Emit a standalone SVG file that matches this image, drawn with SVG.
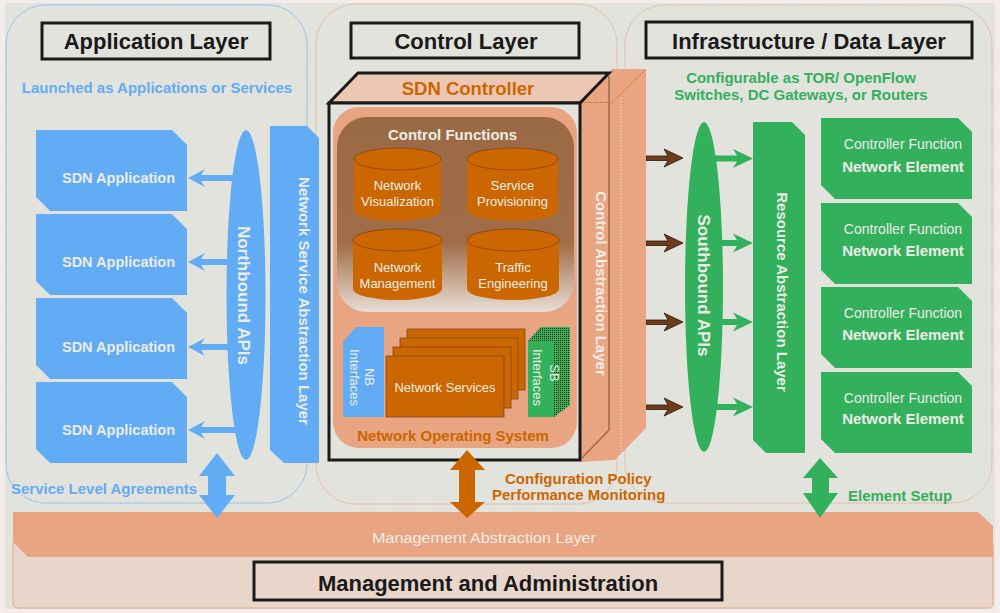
<svg xmlns="http://www.w3.org/2000/svg" width="1000" height="613" viewBox="0 0 1000 613">
<defs>
<style>
text{font-family:"Liberation Sans",Arial,sans-serif}
.b{font-weight:bold}
.ttl{font-size:22px;font-weight:bold;fill:#1a1a1a;text-anchor:middle}
.tbox{fill:none;stroke:#1a1a1a;stroke-width:3}
.blue{fill:#62acf5}
.green{fill:#33b05c}
.orange{fill:#cc6600}
.sal{fill:#e9a482}
.lt{fill:#ecece6}
.mid{text-anchor:middle}
</style>
<pattern id="grdots" width="2" height="2" patternUnits="userSpaceOnUse"><rect width="2" height="2" fill="#33b05c"/><rect width="1" height="1" fill="#0d2a14"/></pattern>
<linearGradient id="cfgrad" x1="0" y1="0" x2="0" y2="1">
<stop offset="0" stop-color="#9a6a44"/><stop offset="0.65" stop-color="#a06d48"/><stop offset="1" stop-color="#e9ddd4"/>
</linearGradient>
</defs>
<rect width="1000" height="613" fill="#f3ecea"/>
<rect x="5" y="3" width="990" height="606" fill="#e3e3de"/>

<g id="panels" fill="none" stroke-width="1" stroke-dasharray="1.5 1">
<rect x="6" y="5" width="301" height="498" rx="40" stroke="#62acf5"/>
<rect x="316" y="4" width="301" height="500" rx="40" stroke="#e9a482"/>
<rect x="625" y="5" width="367" height="498" rx="40" stroke="#e9a482"/>
</g>

<g id="management">
<rect x="13" y="540" width="980" height="68" rx="5" fill="#e9d6cb" stroke="#e9a482"/>
<polygon class="sal" points="13,512 978,512 993,526 993,557 28,557 13,542"/>
<text x="484" y="543" class="mid" font-size="14" fill="#f4ece6" textLength="224" lengthAdjust="spacingAndGlyphs">Management Abstraction Layer</text>
<rect x="254" y="562" width="468" height="38" class="tbox"/>
<text x="488" y="591" class="ttl" font-size="22.5">Management and Administration</text>
</g>

<g id="app-layer">
<rect x="42" y="23" width="228" height="36" class="tbox"/>
<text x="156" y="49" class="ttl">Application Layer</text>
<text x="157" y="93" class="b mid" font-size="15" fill="#62acf5">Launched as Applications or Services</text>
<text x="11" y="494" class="b" font-size="15" fill="#62acf5">Service Level Agreements</text>
</g>

<g id="app1"><path class="blue" d="M36,130H172L187,145V211H50L36,197Z"/><text x="118.5" y="183" class="b mid lt" font-size="14.5">SDN Application</text></g>
<g id="app2"><path class="blue" d="M36,214H172L187,229V295H50L36,281Z"/><text x="118.5" y="267" class="b mid lt" font-size="14.5">SDN Application</text></g>
<g id="app3"><path class="blue" d="M36,298H172L187,313V379H50L36,365Z"/><text x="118.5" y="352" class="b mid lt" font-size="14.5">SDN Application</text></g>
<g id="app4"><path class="blue" d="M36,382H172L187,397V463H50L36,449Z"/><text x="118.5" y="435" class="b mid lt" font-size="14.5">SDN Application</text></g>

<g id="connectors">
<g class="blue">
<polygon points="188,178 205,169 201,175 236,175 236,181 201,181 205,187"/>
<polygon points="188,262 205,253 201,259 236,259 236,265 201,265 205,271"/>
<polygon points="188,347 205,338 201,344 236,344 236,350 201,350 205,356"/>
<polygon points="188,430 205,421 201,427 236,427 236,433 201,433 205,439"/>
</g>
<g fill="#6e3c18" stroke="#2a1a10" stroke-width="0.8">
<polygon points="683,158 664,149 668,156 646,156 646,160.5 668,160.5 664,167"/>
<polygon points="683,243 664,234 668,241 646,241 646,245.5 668,245.5 664,252"/>
<polygon points="683,322 664,313 668,320 646,320 646,324.5 668,324.5 664,331"/>
<polygon points="683,407 664,398 668,405 646,405 646,409.5 668,409.5 664,416"/>
</g>
<g class="green">
<polygon points="753,158.5 733,149 737,155.5 712,155.5 712,161.5 737,161.5 733,168"/>
<polygon points="753,243 733,233.5 737,240 712,240 712,246 737,246 733,252.5"/>
<polygon points="753,322 733,312.5 737,319 712,319 712,325 737,325 733,331.5"/>
<polygon points="753,407 733,397.5 737,404 712,404 712,410 737,410 733,416.5"/>
</g>
</g>

<g id="northbound"><ellipse cx="246" cy="295" rx="19.5" ry="165" class="blue"/><text x="238" y="295.5" transform="rotate(90 238 295.5)" class="b mid lt" font-size="17">Northbound APIs</text></g>
<g id="nsal"><path class="blue" d="M270,126H307L319,138V463H284L270,450Z"/><text x="299" y="301" transform="rotate(90 299 301)" class="b mid lt" font-size="15">Network Service Abstraction Layer</text></g>

<g id="control-layer">
<rect x="351" y="23" width="228" height="35" class="tbox"/>
<text x="466" y="49" class="ttl">Control Layer</text>
</g>

<g id="control-abstraction">
<polygon class="sal" points="580,103 609,73 612,69 646,69 646,428 615,460 580,462"/>
<polyline points="609,76 609,430 582,458" fill="none" stroke="#9b6b45" stroke-width="1.5"/>
<polyline points="582,102.5 612,102.5 645,70" fill="none" stroke="#cc6600" stroke-width="1" stroke-dasharray="1.5 1.5"/>
<line x1="621" y1="98" x2="621" y2="470" stroke="#f3ece6" stroke-width="1" stroke-dasharray="1 2"/>
<text x="596" y="283.5" transform="rotate(90 596 283.5)" class="b mid" font-size="15" fill="#f4ece6">Control Abstraction Layer</text>
</g>

<g id="sdn-controller">
<polygon points="329,103 358,73 609,73 580,103" fill="#ecc8b4" stroke="#1a1a1a" stroke-width="3"/>
<rect x="329" y="103" width="251" height="357" fill="#e3e3de" stroke="#1a1a1a" stroke-width="3"/>
<text x="468" y="95" class="b mid" font-size="18.5" fill="#cc6600">SDN Controller</text>
</g>

<g id="nos">
<rect x="333" y="107" width="244" height="341" rx="26" class="sal"/>
<text x="453" y="441" class="b mid" font-size="15" fill="#cc6600">Network Operating System</text>
</g>

<g id="control-functions">
<rect x="337" y="117" width="237" height="195" rx="30" fill="url(#cfgrad)"/>
<text x="452.5" y="140" class="b mid lt" font-size="15">Control Functions</text>
</g>

<g id="cyl-visualization">
<path class="orange" d="M354,159V210A43.5,11 0 0 0 441,210V159Z"/>
<ellipse cx="397.5" cy="159" rx="43.5" ry="11" class="orange" stroke="#7a3e10" stroke-width="0.7"/>
<text x="397.5" y="190" class="mid lt" font-size="13">Network</text><text x="397.5" y="206" class="mid lt" font-size="13">Visualization</text>
</g>
<g id="cyl-provisioning">
<path class="orange" d="M467,159V210A45.5,11 0 0 0 558,210V159Z"/>
<ellipse cx="512.5" cy="159" rx="45.5" ry="11" class="orange" stroke="#7a3e10" stroke-width="0.7"/>
<text x="512.5" y="190" class="mid lt" font-size="13">Service</text><text x="512.5" y="206" class="mid lt" font-size="13">Provisioning</text>
</g>
<g id="cyl-management">
<path class="orange" d="M353,240V289A44.5,11 0 0 0 442,289V240Z"/>
<ellipse cx="397.5" cy="240" rx="44.5" ry="11" class="orange" stroke="#7a3e10" stroke-width="0.7"/>
<text x="397.5" y="272" class="mid lt" font-size="13">Network</text><text x="397.5" y="288" class="mid lt" font-size="13">Management</text>
</g>
<g id="cyl-traffic">
<path class="orange" d="M467,240V289A46,11 0 0 0 559,289V240Z"/>
<ellipse cx="513" cy="240" rx="46" ry="11" class="orange" stroke="#7a3e10" stroke-width="0.7"/>
<text x="513" y="272" class="mid lt" font-size="13">Traffic</text><text x="513" y="288" class="mid lt" font-size="13">Engineering</text>
</g>

<g id="nb-interfaces">
<path class="blue" d="M343,342L356,327H384V417H343Z"/>
<text x="365" y="377" transform="rotate(90 365 377)" class="mid lt" font-size="13">NB</text>
<text x="350" y="377.5" transform="rotate(90 350 377.5)" class="mid lt" font-size="13">Interfaces</text>
</g>

<g id="network-services" class="orange" stroke="#7a4a22" stroke-width="0.8">
<rect x="407" y="329" width="118" height="61"/>
<rect x="400" y="338" width="118" height="61"/>
<rect x="393" y="347" width="118" height="61"/>
<rect x="386" y="356" width="118" height="61"/>
<text x="445" y="392" class="mid lt" font-size="13" stroke="none">Network Services</text>
</g>

<g id="sb-interfaces">
<rect x="528" y="341" width="26" height="76" class="green"/>
<polygon points="528,341 541,327 570,327 554,341" fill="url(#grdots)"/>
<polygon points="554,341 570,327 570,405 554,417" fill="url(#grdots)"/>
<text x="550" y="373" transform="rotate(90 550 373)" class="mid lt" font-size="13">SB</text>
<text x="533" y="377.5" transform="rotate(90 533 377.5)" class="mid lt" font-size="13">Interfaces</text>
</g>

<g id="cfg-text">
<text x="505" y="484" class="b" font-size="15" fill="#cc6600">Configuration Policy</text>
<text x="492" y="500" class="b" font-size="15" fill="#cc6600">Performance Monitoring</text>
</g>

<g id="infra-layer">
<rect x="646" y="22" width="326" height="36" class="tbox"/>
<text x="809" y="49" class="ttl">Infrastructure / Data Layer</text>
<text x="801" y="83" class="b mid" font-size="15" fill="#33b05c">Configurable as TOR/ OpenFlow</text>
<text x="801" y="100" class="b mid" font-size="15" fill="#33b05c">Switches, DC Gateways, or Routers</text>
<text x="848" y="501" class="b" font-size="15" fill="#33b05c">Element Setup</text>
</g>

<g id="southbound"><ellipse cx="704" cy="287" rx="19" ry="165" class="green"/><text x="697.5" y="285.5" transform="rotate(90 697.5 285.5)" class="b mid lt" font-size="17">Southbound APIs</text></g>
<g id="ral"><path class="green" d="M753,122H792L805,135V453H766L753,440Z"/><text x="776.5" y="292" transform="rotate(90 776.5 292)" class="b mid lt" font-size="15">Resource Abstraction Layer</text></g>

<g id="ne1"><path class="green" d="M821,118H958L972,132V199H835L821,185Z"/><text x="903" y="149" class="mid lt" font-size="14">Controller Function</text><text x="903" y="172" class="b mid lt" font-size="15">Network Element</text></g>
<g id="ne2"><path class="green" d="M821,203H958L972,217V284H835L821,270Z"/><text x="903" y="234" class="mid lt" font-size="14">Controller Function</text><text x="903" y="256" class="b mid lt" font-size="15">Network Element</text></g>
<g id="ne3"><path class="green" d="M821,287H958L972,301V368H835L821,354Z"/><text x="903" y="318" class="mid lt" font-size="14">Controller Function</text><text x="903" y="340" class="b mid lt" font-size="15">Network Element</text></g>
<g id="ne4"><path class="green" d="M821,372H958L972,386V453H835L821,439Z"/><text x="903" y="403" class="mid lt" font-size="14">Controller Function</text><text x="903" y="424" class="b mid lt" font-size="15">Network Element</text></g>

<g id="double-arrows">
<polygon class="blue" points="217,453 235,476 226,476 226,495 235,495 217,518 199,495 208,495 208,476 199,476"/>
<polygon class="orange" points="467,450 485,470 475,470 475,502 485,502 467,518 450,502 459,502 459,470 450,470"/>
<polygon class="green" points="820,458 838,478 829,478 829,493 838,493 820,518 803,493 812,493 812,478 803,478"/>
</g>
</svg>
